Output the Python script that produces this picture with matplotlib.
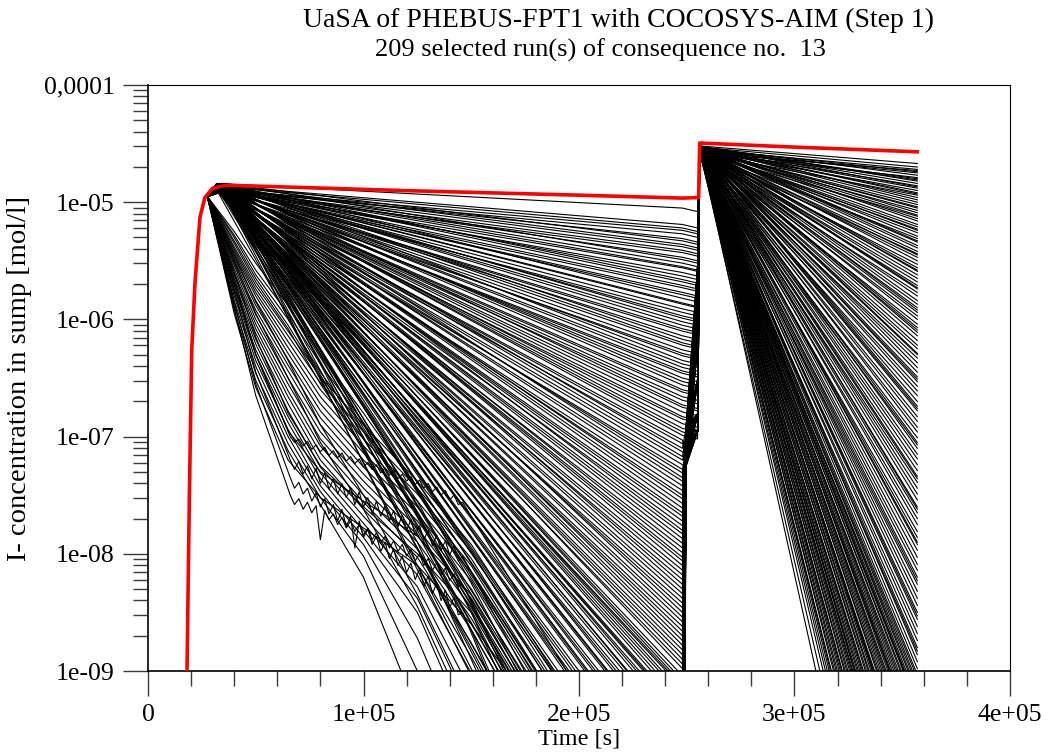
import numpy as np
import matplotlib.pyplot as plt
from matplotlib.ticker import FixedLocator, FixedFormatter, LogLocator, MultipleLocator, NullFormatter

plt.rcParams['font.family'] = ['Liberation Serif', 'DejaVu Serif']

# all concentrations below are log10 of mol/l, times in s

# shared start-up of the sump concentration (same for every run)
rise_time = [1.70e4, 1.81e4, 1.92e4, 2.03e4, 2.18e4, 2.41e4, 2.64e4]
rise_logc = [-10.5, -9.0, -7.5, -6.26, -5.69, -5.13, -4.96]

# reference run (red)
ref_time = [1.70e4, 1.81e4, 1.92e4, 2.03e4, 2.18e4, 2.41e4, 2.64e4, 3.0e4, 3.65e4,
            1.17e5, 2.0e5, 2.48e5, 2.555e5, 2.56e5, 3.0e5, 3.57e5]
ref_logc = [-10.5, -9.0, -7.5, -6.26, -5.69, -5.13, -4.96, -4.88, -4.855,
            -4.90, -4.94, -4.965, -4.96, -4.495, -4.53, -4.57]

# phase 1: runs decaying log-linearly after the peak (value reached at 2.48e5 s)
peak_time = [3.2e4, 3.4e4, 3.6e4, 3.3e4, 3.5e4]
peak_top = [-4.84, -4.86, -4.87, -4.89, -4.90, -4.88]
flat_end = [-5.05, -5.19, -5.22, -5.24, -5.27, -5.31, -5.33, -5.36, -5.38, -5.41,
            -5.43, -5.47, -5.49, -5.52, -5.55, -5.56, -5.60, -5.63, -5.66, -5.68,
            -5.71, -5.73, -5.77, -5.79, -5.82, -5.86, -5.87, -5.91, -5.94, -5.97,
            -5.99, -6.02, -6.05, -6.08, -6.10, -6.14, -6.17, -6.20, -6.22, -6.26,
            -6.29, -6.31, -6.35, -6.38, -6.41, -6.44, -6.46, -6.50, -6.53, -6.56,
            -6.60, -6.62, -6.66, -6.69, -6.73, -6.75, -6.79, -6.83, -6.85, -6.89,
            -6.93, -6.96, -6.99, -7.03, -7.06, -7.10, -7.13, -7.17, -7.20, -7.24,
            -7.28, -7.31, -7.35, -7.38, -7.42, -7.46, -7.50, -7.53, -7.57, -7.61,
            -7.65, -7.68, -7.72, -7.76, -7.80, -7.83, -7.87, -7.91, -7.95, -7.99,
            -8.03, -8.06, -8.10, -8.14, -8.18, -8.22, -8.26, -8.30, -8.34, -8.38,
            -8.42, -8.46, -8.50, -8.54, -8.58, -8.62, -8.66, -8.70, -8.74, -8.78,
            -8.82, -8.86, -8.90, -8.94, -8.98,
            -9.04, -9.08, -9.11, -9.15, -9.19, -9.22, -9.26, -9.30, -9.34, -9.38,
            -9.42, -9.46, -9.50, -9.55, -9.60, -9.64, -9.69, -9.74, -9.79, -9.84,
            -9.90, -9.95, -10.0, -10.06, -10.12, -10.18, -10.24, -10.30, -10.37, -10.44,
            -10.51, -10.58, -10.65, -10.73, -10.81, -10.90, -10.99, -11.08, -11.18, -11.28,
            -11.38, -11.49, -11.60, -11.72, -11.85, -11.98, -12.12, -12.27, -12.43, -12.60,
            -9.13, -9.36, -9.57, -9.81, -10.09, -10.33, -10.62, -10.95, -11.33, -11.78]

# phase 1: fast-falling runs, values at low_time
low_time = [4.0e4, 5.0e4, 6.5e4, 8.0e4, 1.0e5, 1.25e5, 1.5e5, 2.48e5]
low_runs = [
    [-5.92, -6.52, -7.12, -7.58, -8.20, -9.35, -10.6, -14.0],
    [-5.88, -6.46, -7.06, -7.52, -8.02, -9.00, -10.2, -13.6],
    [-5.84, -6.40, -7.00, -7.47, -7.92, -8.72, -9.80, -13.2],
    [-5.80, -6.35, -6.94, -7.42, -7.86, -8.50, -9.55, -13.0],
    [-5.77, -6.30, -6.88, -7.36, -7.80, -8.38, -9.35, -12.7],
    [-5.74, -6.26, -6.83, -7.31, -7.74, -8.28, -9.18, -12.5],
    [-5.71, -6.21, -6.78, -7.26, -7.68, -8.18, -9.02, -12.3],
    [-5.68, -6.17, -6.72, -7.20, -7.62, -8.10, -8.88, -12.1],
    [-5.65, -6.12, -6.66, -7.14, -7.56, -8.03, -8.76, -11.9],
    [-5.62, -6.08, -6.61, -7.08, -7.50, -7.96, -8.65, -11.8],
    [-5.60, -6.04, -6.55, -7.02, -7.44, -7.90, -8.55, -11.6],
    [-5.57, -6.00, -6.50, -6.96, -7.38, -7.84, -8.46, -11.5],
    [-5.54, -5.96, -6.44, -6.90, -7.32, -7.78, -8.38, -11.4],
    [-5.52, -5.92, -6.39, -6.84, -7.26, -7.72, -8.30, -11.3],
    [-5.49, -5.88, -6.34, -6.78, -7.20, -7.66, -8.23, -11.2],
    [-5.47, -5.84, -6.29, -6.72, -7.14, -7.60, -8.16, -11.1],
    [-5.44, -5.80, -6.24, -6.66, -7.08, -7.55, -8.10, -11.0],
    [-5.42, -5.77, -6.19, -6.60, -7.02, -7.49, -8.04, -10.9],
    [-5.40, -5.74, -6.14, -6.54, -6.96, -7.44, -7.98, -10.8],
    [-5.38, -5.71, -6.10, -6.49, -6.90, -7.38, -7.92, -10.7],
    [-5.95, -6.58, -7.20, -7.52, -7.78, -8.10, -8.60, -11.0],
    [-5.70, -6.30, -6.95, -7.30, -7.55, -7.85, -8.35, -11.5],
    [-5.60, -6.15, -6.80, -7.25, -7.60, -8.00, -8.50, -12.0],
    [-5.30, -5.62, -6.00, -6.45, -6.95, -7.65, -8.50, -12.5],
    [-5.28, -5.58, -5.95, -6.38, -6.88, -7.55, -8.40, -12.0],
    [-5.35, -5.68, -6.08, -6.55, -7.10, -7.90, -8.90, -13.0],
    [-5.25, -5.52, -5.88, -6.30, -6.80, -7.45, -8.25, -11.7],
    [-5.45, -5.85, -6.35, -6.90, -7.50, -8.35, -9.30, -13.5],
    [-5.33, -5.65, -6.05, -6.50, -7.02, -7.75, -8.65, -12.8],
    [-5.50, -5.95, -6.50, -7.05, -7.62, -8.45, -9.45, -13.8],
]

# phase 1: oscillating runs, lead-in at 4e4 s and 5e4 s, then every 2e3 s from 6.6e4 s
zigzag_lead = [[-5.75, -6.45], [-5.85, -6.55], [-5.65, -6.30], [-5.90, -6.65]]
zigzag_time = [6.6e4, 6.8e4, 7.0e4, 7.2e4, 7.4e4, 7.6e4, 7.8e4, 8.0e4, 8.2e4, 8.4e4,
               8.6e4, 8.8e4, 9.0e4, 9.2e4, 9.4e4, 9.6e4, 9.8e4, 1.00e5, 1.02e5, 1.04e5,
               1.06e5, 1.08e5, 1.10e5, 1.12e5, 1.14e5, 1.16e5, 1.18e5, 1.20e5, 1.22e5, 1.24e5,
               1.26e5, 1.28e5, 1.30e5, 1.32e5, 1.34e5, 1.36e5, 1.38e5, 1.40e5, 1.42e5, 1.44e5,
               1.46e5]
zigzag_runs = [
    [-7.20, -7.28, -7.21, -7.32, -7.25, -7.36, -7.27, -7.40, -7.31, -7.45,
     -7.36, -7.49, -7.40, -7.52, -7.44, -7.58, -7.47, -7.60, -7.52, -7.66,
     -7.55, -7.68, -7.59, -7.72, -7.63, -7.77, -7.67, -7.80, -7.71, -7.84,
     -7.76, -7.88, -7.80, -7.93, -7.84, -7.97, -7.89, -8.01, -7.93, -8.06, -8.02],
    [-7.35, -7.44, -7.39, -7.49, -7.44, -7.55, -7.48, -7.60, -7.53, -7.66,
     -7.58, -7.72, -7.62, -7.77, -7.68, -7.95, -7.72, -7.86, -7.79, -7.92,
     -7.85, -7.98, -7.90, -8.04, -7.96, -8.10, -8.02, -8.16, -8.08, -8.22,
     -8.13, -8.28, -8.19, -8.34, -8.25, -8.40, -8.31, -8.46, -8.37, -8.52, -8.50],
    [-7.00, -7.05, -7.02, -7.08, -7.04, -7.11, -7.07, -7.13, -7.09, -7.16,
     -7.12, -7.18, -7.14, -7.21, -7.17, -7.23, -7.19, -7.26, -7.22, -7.28,
     -7.24, -7.31, -7.27, -7.33, -7.29, -7.36, -7.32, -7.38, -7.34, -7.41,
     -7.37, -7.44, -7.40, -7.47, -7.43, -7.50, -7.46, -7.54, -7.50, -7.58, -7.56],
    [-7.50, -7.58, -7.53, -7.62, -7.56, -7.65, -7.59, -7.88, -7.63, -7.71,
     -7.66, -7.75, -7.69, -7.78, -7.72, -7.81, -7.75, -7.84, -7.78, -7.88,
     -7.82, -7.91, -7.85, -7.95, -7.89, -7.98, -7.92, -8.02, -7.96, -8.06,
     -8.00, -8.10, -8.04, -8.14, -8.08, -8.18, -8.12, -8.23, -8.17, -8.28, -8.26],
]
zigzag_end = [-11.5, -13.0, -10.6, -12.2]

# transition around 2.5e5 s for the low runs
dip_floor = [-7.20, -7.05, -6.92, -7.15, -6.98, -7.10, -7.25]
dip_top = [-6.00, -5.60, -6.50, -5.80, -6.80, -6.20, -5.50, -6.95, -5.70]

# phase 2: start at 2.56e5 s and value at 3.57e5 s
start2 = [-4.52, -4.53, -4.55, -4.54, -4.56, -4.53, -4.58, -4.54]
end2 = [-4.67, -4.70, -4.72, -4.74, -4.75, -4.77, -4.79, -4.80, -4.82, -4.84,
        -4.86, -4.88, -4.90, -4.92, -4.94, -4.96, -4.98, -5.00, -5.02, -5.05,
        -5.07, -5.09, -5.12, -5.14, -5.16, -5.19, -5.21, -5.24, -5.26, -5.29,
        -5.31, -5.34, -5.37, -5.39, -5.42, -5.45, -5.47, -5.50, -5.53, -5.56,
        -5.59, -5.62, -5.65, -5.68, -5.71, -5.74, -5.77, -5.80, -5.84, -5.87,
        -5.90, -5.94, -5.97, -6.00, -6.04, -6.07, -6.11, -6.14, -6.18, -6.22,
        -6.25, -6.29, -6.33, -6.37, -6.41, -6.45, -6.49, -6.53, -6.57, -6.61,
        -6.65, -6.70, -6.74, -6.78, -6.83, -6.87, -6.92, -6.96, -7.01, -7.05,
        -7.10, -7.15, -7.19, -7.24, -7.29, -7.34, -7.39, -7.44, -7.49, -7.54,
        -7.60, -7.65, -7.70, -7.75, -7.81, -7.86, -7.92, -7.97, -8.03, -8.09,
        -8.14, -8.20, -8.26, -8.32, -8.38, -8.44, -8.50, -8.56, -8.62, -8.68,
        -8.74, -8.80, -8.86, -8.92, -8.98,
        -9.03, -9.06, -9.10, -9.13, -9.17, -9.20, -9.24, -9.27, -9.31, -9.35,
        -9.38, -9.42, -9.46, -9.50, -9.54, -9.58, -9.62, -9.66, -9.70, -9.74,
        -9.78, -9.82, -9.86, -9.90, -9.95, -9.99, -10.03, -10.08, -10.12, -10.17,
        -10.21, -10.26, -10.30, -10.35, -10.40, -10.45, -10.50, -10.55, -10.60, -10.65,
        -10.70, -10.75, -10.80, -10.86, -10.91, -10.97, -11.02, -11.08, -11.14, -11.20,
        -11.26, -11.32, -11.38, -11.45, -11.51, -11.58, -11.65, -11.72, -11.80, -11.88,
        -11.96, -12.05, -12.15, -12.25, -12.40, -12.60, -12.90,
        -4.73, -4.81, -4.87, -4.93, -5.04, -5.11, -5.23, -5.33, -5.44, -5.58,
        -5.73, -5.92, -6.09, -6.30, -6.51, -6.76, -7.07, -7.36, -7.62, -7.90,
        -8.23, -8.53, -8.83, -9.29, -9.64, -10.14, -10.83]

x_ticks = [0, 1e5, 2e5, 3e5, 4e5]
x_labels = ['0', '1e+05', '2e+05', '3e+05', '4e+05']
y_ticks = [1e-9, 1e-8, 1e-7, 1e-6, 1e-5, 1e-4]
y_labels = ['1e-09', '1e-08', '1e-07', '1e-06', '1e-05', '0,0001']


def conc(logs):
    return 10.0 ** np.asarray(logs, dtype=float)


# assemble phase 1 of every run: (times, log10 values, value at 2.48e5 s)
phase1 = []
for k, end in enumerate(flat_end):
    phase1.append((rise_time + [peak_time[k % len(peak_time)], 2.48e5],
                   rise_logc + [peak_top[k % len(peak_top)], end], end))
for run in low_runs:
    phase1.append((rise_time + [2.75e4] + low_time,
                   rise_logc + [-4.95] + run, run[-1]))
for lead, zz, end in zip(zigzag_lead, zigzag_runs, zigzag_end):
    phase1.append((rise_time + [2.75e4, 4.0e4, 5.0e4] + zigzag_time + [2.48e5],
                   rise_logc + [-4.95] + lead + zz + [end], end))

fig = plt.figure(figsize=(10.48, 7.55), dpi=100)
ax = fig.add_axes([148 / 1048, 84 / 755, 862 / 1048, 586 / 755])

for i, (t, c, end) in enumerate(phase1):
    t = list(t)
    c = list(c)
    s2 = start2[i % len(start2)]
    if end > -7.0:
        t += [2.55e5, 2.56e5]
        c += [end - 0.03, s2]
    else:
        t += [2.497e5, 2.552e5, 2.56e5]
        c += [dip_floor[i % len(dip_floor)], dip_top[i % len(dip_top)], s2]
    t.append(3.57e5)
    c.append(end2[i])
    ax.plot(t, conc(c), color='black', lw=0.8)

ax.plot(ref_time, conc(ref_logc), color='#ff0000', lw=2.6, zorder=5)

ax.set_yscale('log')
ax.set_xlim(0, 4e5)
ax.set_ylim(1e-9, 1e-4)

ax.xaxis.set_major_locator(FixedLocator(x_ticks))
ax.xaxis.set_major_formatter(FixedFormatter(x_labels))
ax.xaxis.set_minor_locator(MultipleLocator(2e4))
ax.yaxis.set_major_locator(FixedLocator(y_ticks))
ax.yaxis.set_major_formatter(FixedFormatter(y_labels))
ax.yaxis.set_minor_locator(LogLocator(base=10, subs=np.arange(2, 10)))
ax.yaxis.set_minor_formatter(NullFormatter())

ax.tick_params(which='both', direction='out', color='#3a3a3a', width=1.0,
               top=False, right=False)
ax.tick_params(which='major', length=18, labelsize=18.5, pad=6)
ax.tick_params(which='minor', length=11)
for side in ['left', 'bottom']:
    ax.spines[side].set_linewidth(1.2)
for side in ['top', 'right']:
    ax.spines[side].set_linewidth(0.8)

ax.set_xlabel('Time [s]', fontsize=17.5)
ax.xaxis.set_label_coords(0.5, -0.098)
ax.set_ylabel('I- concentration in sump [mol/l]', fontsize=20.5)
ax.yaxis.set_label_coords(-0.1345, 0.5)

fig.text(0.59, 0.9735, 'UaSA of PHEBUS-FPT1 with COCOSYS-AIM (Step 1)',
         ha='center', va='center', fontsize=20)
fig.text(0.5725, 0.934, '209 selected run(s) of consequence no.  13',
         ha='center', va='center', fontsize=19)

fig.savefig('out.png', dpi=100)
